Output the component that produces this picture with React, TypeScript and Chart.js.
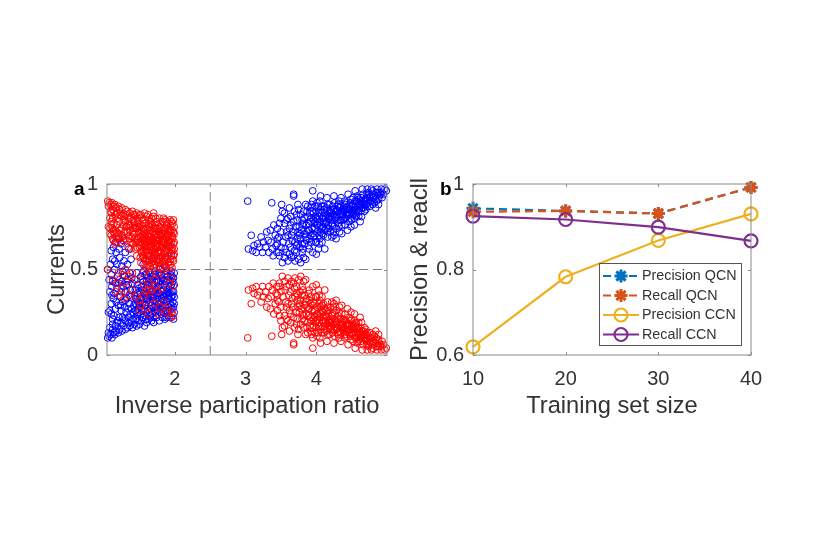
import React, { useEffect, useRef } from "react";
import { Chart, registerables } from "chart.js";
Chart.register(...registerables);

// flat lists: x, y, x, y ...
const blueLeft = [
1.05,.1,1.07,.11,1.09,.12,1.06,.13,1.11,.1,1.13,.13,1.15,.12,1.12,.15,1.17,.14,1.2,.13,1.22,.15,1.25,.14,1.27,.17,1.3,.15,1.33,.16,1.36,.17,1.4,.16,1.43,.18,1.46,.17,1.5,.18,1.53,.2,1.57,.17,1.6,.19,1.63,.21,1.67,.2,1.7,.19,1.74,.22,1.78,.2,1.82,.22,1.86,.21,1.9,.23,1.95,.22,1.98,.21,
1.06,.25,1.08,.26,1.1,.24,1.14,.23,1.16,.27,1.19,.2,1.21,.22,1.24,.26,1.28,.21,1.31,.25,1.34,.22,1.37,.24,1.41,.21,1.44,.26,1.47,.23,1.49,.28,1.52,.24,1.55,.26,1.58,.23,1.61,.27,1.64,.25,1.68,.24,1.71,.28,1.75,.26,1.79,.25,1.83,.29,1.87,.26,1.91,.28,1.96,.27,1.99,.25,
1.1,.3,1.13,.33,1.17,.31,1.2,.29,1.23,.34,1.26,.31,1.29,.28,1.32,.33,1.35,.3,1.38,.34,1.42,.29,1.45,.33,1.48,.31,1.51,.34,1.54,.3,1.56,.33,1.59,.29,1.62,.33,1.65,.31,1.69,.34,1.72,.3,1.76,.33,1.8,.31,1.84,.34,1.88,.31,1.92,.33,1.97,.31,1.99,.34,
1.08,.37,1.11,.4,1.14,.36,1.18,.39,1.21,.42,1.24,.37,1.27,.4,1.3,.37,1.34,.41,1.37,.38,1.4,.42,1.44,.38,1.47,.41,1.5,.37,1.53,.4,1.57,.36,1.6,.39,1.63,.42,1.66,.37,1.7,.41,1.73,.38,1.77,.4,1.81,.37,1.85,.41,1.89,.38,1.93,.4,1.96,.37,1.99,.41,
1.07,.44,1.1,.47,1.12,.43,1.15,.5,1.19,.46,1.22,.44,1.26,.49,1.29,.46,1.33,.44,1.36,.48,1.39,.45,1.43,.44,1.46,.48,1.52,.46,1.56,.43,1.58,.47,1.62,.45,1.65,.48,1.68,.44,1.71,.47,1.75,.44,1.78,.48,1.82,.45,1.86,.47,1.9,.44,1.94,.47,1.98,.45,
1.05,.5,1.09,.53,1.12,.56,1.15,.55,1.18,.53,1.22,.57,1.25,.52,1.28,.55,1.33,.53,1.38,.56,1.1,.61,1.13,.63,1.17,.6,1.21,.62,1.24,.65,1.3,.6,1.35,.62,1.16,.66,1.2,.68,1.27,.67,1.55,.53,1.62,.58,1.7,.62,1.75,.55,1.8,.7,1.9,.65,1.95,.58,1.85,.52,
1.12,.18,1.16,.17,1.24,.19,1.3,.2,1.38,.2,1.45,.21,1.55,.22,1.65,.23,1.72,.25,1.8,.27,1.9,.25,1.95,.29,1.58,.35,1.61,.36,1.67,.34,1.74,.35,1.78,.36,1.83,.35,1.87,.36,1.91,.35,1.95,.34,1.6,.43,1.67,.42,1.74,.43,1.8,.43,1.87,.43,1.92,.42,1.97,.43,
1.08,.16,1.18,.19,1.26,.22,1.35,.19,1.42,.24,1.48,.2,1.59,.21,1.66,.27,1.73,.23,1.81,.24,1.88,.22,1.93,.26,1.98,.28,1.12,.21,1.23,.29,1.3,.32,1.39,.27,1.46,.29,1.53,.27,1.6,.31,1.67,.29,1.73,.28,1.77,.3,1.82,.27,1.86,.29,1.94,.3,1.11,.35,1.16,.42,1.25,.43,1.31,.41,1.36,.35,1.43,.35,1.49,.39,1.55,.38,1.61,.41,1.65,.39,1.69,.37,1.75,.39,1.79,.41,1.84,.38,1.88,.43,1.91,.39,1.95,.41,1.98,.37,1.54,.44,1.6,.47,1.64,.44,1.69,.46,1.73,.46,1.77,.43,1.81,.47,1.84,.44,1.89,.46,1.93,.44,1.96,.46,1.99,.48,1.56,.49,1.63,.49,1.72,.49,1.79,.5,1.88,.49,1.95,.49,
1.44,.3,1.5,.3,1.57,.29,1.63,.35,1.7,.32,1.75,.31,1.81,.33,1.85,.32,1.9,.33,1.93,.36,1.97,.35,1.99,.3,1.34,.27,1.41,.25,1.48,.25,1.54,.22,1.62,.26,1.69,.22,1.76,.28,1.84,.25,1.92,.22,1.47,.36,1.52,.33,1.6,.33,1.65,.34,1.7,.35,1.76,.36,1.8,.35,1.86,.35,1.91,.37
];
const redLeft = [
1.05,.9,1.07,.89,1.09,.88,1.06,.87,1.11,.89,1.13,.87,1.15,.88,1.12,.85,1.17,.86,1.2,.87,1.22,.85,1.25,.86,1.27,.83,1.3,.85,1.33,.84,1.36,.83,1.4,.84,1.43,.82,1.46,.83,1.5,.82,1.53,.8,1.57,.83,1.6,.81,1.63,.79,1.67,.8,1.7,.81,1.74,.78,1.78,.8,1.82,.78,1.86,.79,1.9,.77,1.95,.78,1.98,.79,
1.06,.75,1.08,.74,1.1,.76,1.14,.77,1.16,.73,1.19,.8,1.21,.78,1.24,.74,1.28,.79,1.31,.75,1.34,.78,1.37,.76,1.41,.79,1.44,.74,1.47,.77,1.49,.72,1.52,.76,1.55,.74,1.58,.77,1.61,.73,1.64,.75,1.68,.76,1.71,.72,1.75,.74,1.79,.75,1.83,.71,1.87,.74,1.91,.72,1.96,.73,1.99,.75,
1.1,.7,1.13,.67,1.17,.69,1.2,.71,1.23,.66,1.26,.69,1.29,.72,1.32,.67,1.35,.7,1.38,.66,1.42,.71,1.45,.67,1.48,.69,1.51,.66,1.54,.7,1.56,.67,1.59,.71,1.62,.67,1.65,.69,1.69,.66,1.72,.7,1.76,.67,1.8,.69,1.84,.66,1.88,.69,1.92,.67,1.97,.69,1.99,.66,
1.5,.63,1.53,.6,1.57,.64,1.6,.61,1.63,.58,1.66,.63,1.7,.59,1.73,.62,1.77,.6,1.81,.63,1.85,.59,1.89,.62,1.93,.6,1.96,.63,1.99,.59,1.52,.54,1.56,.57,1.58,.53,1.62,.55,1.65,.52,1.68,.56,1.71,.53,1.75,.56,1.78,.52,1.82,.55,1.86,.53,1.9,.56,1.94,.53,1.98,.55,1.44,.62,1.46,.58,1.41,.65,1.38,.62,1.34,.63,
1.18,.72,1.25,.7,1.12,.74,1.15,.71,1.66,.77,1.72,.76,1.8,.74,1.88,.76,1.94,.76,1.55,.68,1.6,.68,1.68,.68,1.75,.69,1.83,.68,1.91,.69,1.96,.68,1.6,.64,1.67,.61,1.74,.65,1.8,.6,1.87,.65,1.92,.63,1.97,.61,1.55,.61,1.47,.68,1.42,.74,1.37,.8,1.3,.78,1.25,.81,1.55,.79,1.47,.8,1.12,.8,1.08,.8,1.08,.71,1.15,.65,1.12,.68,
1.05,.5,1.2,.48,1.26,.47,1.3,.5,1.35,.46,1.12,.44,1.18,.42,1.25,.39,1.32,.43,1.16,.37,1.22,.35,1.28,.33,1.35,.35,1.4,.38,1.45,.34,1.5,.32,1.56,.35,1.52,.29,1.6,.28,1.62,.42,1.55,.48,1.63,.38,1.56,.41,1.58,.37,1.68,.38,1.72,.4,1.76,.37,1.82,.39,1.66,.33,1.72,.3,1.78,.28,1.85,.31,1.9,.27,1.96,.25,1.98,.23,1.94,.22,1.88,.25,1.76,.24,1.62,.24,1.5,.26,1.65,.47,1.72,.44,1.85,.46,1.92,.42,1.95,.45,1.98,.4,1.75,.48,1.45,.44,1.4,.48,
1.1,.83,1.16,.82,1.23,.82,1.29,.81,1.35,.8,1.41,.82,1.48,.78,1.52,.82,1.58,.79,1.62,.82,1.66,.78,1.7,.83,1.73,.8,1.77,.76,1.84,.8,1.88,.78,1.93,.79,1.97,.77,1.99,.71,1.94,.72,1.9,.74,1.85,.73,1.81,.71,1.77,.72,1.73,.74,1.69,.72,1.65,.73,1.63,.76,1.59,.74,1.56,.72,1.53,.73,1.5,.75,1.46,.74,1.43,.76,1.4,.72,1.36,.73,1.32,.75,1.27,.76,1.22,.73,1.18,.76,1.13,.72,1.1,.78,
1.98,.65,1.95,.66,1.9,.67,1.86,.68,1.82,.66,1.78,.64,1.73,.67,1.7,.65,1.66,.66,1.63,.69,1.58,.65,1.55,.65,1.52,.69,1.49,.66,1.46,.63,1.43,.68,1.99,.62,1.94,.64,1.9,.6,1.86,.61,1.83,.63,1.79,.61,1.76,.63,1.72,.64,1.69,.6,1.65,.61,1.62,.63,1.59,.6,1.56,.63,1.54,.58,1.58,.56,1.62,.52,1.66,.58,1.7,.55,1.74,.58,1.78,.56,1.82,.58,1.86,.56,1.9,.58,1.94,.56,1.98,.58,1.6,.51,1.7,.51,1.8,.51,1.88,.51,1.96,.51,
1.51,.57,1.55,.59,1.59,.55,1.61,.59,1.64,.56,1.67,.54,1.69,.57,1.72,.6,1.75,.6,1.77,.54,1.8,.57,1.84,.55,1.87,.57,1.91,.54,1.95,.61,1.97,.56,1.52,.64,1.57,.66,1.6,.66,1.64,.67,1.67,.64,1.71,.66,1.75,.65,1.78,.67,1.81,.65,1.85,.66,1.88,.64,1.92,.66,1.95,.7,1.52,.71,1.57,.69,1.61,.7,1.66,.71,1.7,.74,1.74,.71,1.78,.7,1.82,.73,1.86,.71,1.9,.7,1.93,.73,1.98,.72,1.44,.66,1.4,.69,1.36,.68,1.33,.72,1.28,.68,1.22,.68,1.18,.66,1.42,.78,1.48,.75,1.34,.76,1.3,.82,1.18,.83,1.14,.84,1.09,.84,1.73,.53,1.83,.51,1.92,.51
];
const blueRight = [
3.03,.9,3.37,.89,3.51,.88,3.68,.93,3.68,.94,3.95,.96,4.06,.93,3.08,.7,3.04,.62,3.12,.64,3.17,.65,3.2,.63,3.25,.66,3.22,.69,3.3,.72,3.28,.63,3.33,.6,3.36,.66,3.38,.62,3.42,.7,3.44,.6,3.45,.65,3.48,.58,3.5,.63,3.52,.54,3.55,.57,3.58,.6,3.6,.55,3.63,.63,3.65,.57,3.7,.55,3.72,.6,3.75,.56,3.78,.54,3.8,.6,3.82,.57,3.85,.56,3.9,.62,3.95,.6,4.0,.59,4.03,.62,4.08,.66,4.12,.62,4.16,.69,4.2,.72,4.25,.7,
3.4,.76,3.45,.74,3.5,.72,3.55,.77,3.58,.72,3.6,.8,3.62,.74,3.65,.7,3.68,.78,3.7,.66,3.72,.82,3.74,.72,3.76,.75,3.78,.68,3.8,.79,3.82,.84,3.84,.71,3.86,.76,3.88,.81,3.9,.68,3.92,.86,3.94,.74,3.96,.79,3.98,.7,4.0,.84,4.02,.76,4.04,.81,4.06,.72,4.08,.87,4.1,.78,4.12,.83,4.14,.74,4.16,.88,4.18,.8,4.2,.85,4.22,.77,4.24,.82,4.26,.89,4.28,.74,4.3,.84,4.32,.79,4.34,.87,4.36,.76,4.38,.82,4.4,.9,4.42,.8,4.44,.85,4.46,.78,4.48,.89,4.5,.83,4.52,.92,4.54,.8,4.56,.87,4.58,.93,4.6,.84,4.62,.9,4.64,.81,4.66,.94,4.68,.88,4.7,.85,4.72,.92,4.74,.95,4.76,.87,4.78,.9,4.8,.96,4.82,.89,4.84,.93,4.86,.97,4.88,.91,4.9,.95,4.92,.97,4.95,.94,4.97,.97,4.99,.96,
3.62,.86,3.55,.83,3.5,.8,3.45,.68,3.75,.85,3.85,.88,3.95,.9,4.05,.9,4.15,.92,4.25,.93,4.35,.92,4.45,.94,4.55,.96,4.65,.97,4.72,.97,4.78,.97,4.85,.95,3.77,.63,3.83,.65,3.87,.72,3.93,.66,3.97,.77,4.01,.72,4.05,.68,4.09,.75,4.13,.8,4.17,.76,4.21,.79,4.25,.75,4.29,.81,4.33,.72,4.37,.85,4.41,.76,4.45,.82,4.49,.75,4.53,.84,4.57,.82,4.61,.87,4.65,.86,4.69,.91,4.73,.89,4.77,.93,4.81,.92,4.85,.9,4.89,.93,4.93,.92,
3.92,.78,3.96,.83,4.0,.8,4.03,.87,4.07,.83,4.11,.87,4.15,.82,4.19,.84,4.23,.87,4.27,.84,4.31,.88,4.35,.82,4.39,.87,4.43,.89,4.47,.85,4.51,.88,4.55,.9,4.59,.88,4.63,.92,4.67,.9,4.71,.94,4.75,.92,4.79,.94,4.83,.91,4.87,.95,4.91,.94,3.9,.73,3.94,.84,3.98,.87,4.02,.79,4.06,.85,4.1,.81,4.14,.86,4.18,.83,4.22,.81,4.26,.79,4.3,.87,4.34,.83,4.38,.79,4.42,.86,4.46,.83,4.5,.87,4.54,.85,4.58,.85,4.62,.88,4.66,.89,4.7,.88,
3.43,.64,3.47,.69,3.53,.66,3.57,.69,3.61,.65,3.66,.67,3.69,.61,3.73,.68,3.77,.71,3.8,.65,3.86,.67,3.89,.77,3.91,.83,3.93,.8,3.97,.74,3.99,.81,4.01,.76,4.03,.83,4.05,.78,4.07,.74,4.09,.8,4.11,.85,4.13,.77,4.17,.81,4.19,.88,4.21,.83,4.23,.76,4.27,.8,4.29,.85,4.31,.77,4.33,.86,4.35,.79,4.37,.81,4.39,.84,4.41,.88,4.43,.83,4.47,.87,4.49,.91,4.51,.85,4.53,.87,4.55,.83,4.57,.9,4.59,.92,4.61,.86,4.63,.9,4.67,.86,4.71,.9,4.73,.94,3.6,.7,3.64,.76,3.67,.72,3.71,.75,3.73,.79,3.79,.73,3.81,.76,3.83,.8,3.87,.84,3.89,.73,3.95,.71,3.99,.66,4.04,.7,4.1,.7,4.18,.74,4.24,.72,4.32,.75,4.4,.8,4.5,.79,4.6,.81,
3.35,.73,3.48,.77,3.52,.84,3.58,.79,3.64,.81,3.69,.84,3.74,.88,3.78,.82,3.82,.77,3.88,.87,3.93,.88,3.98,.78,4.01,.89,4.06,.76,4.11,.77,4.15,.78,4.2,.81,4.24,.85,4.28,.82,4.32,.9,4.36,.84,4.4,.85,4.44,.82,4.48,.8,4.52,.82,4.56,.81,4.6,.91,4.64,.86,4.68,.84,4.72,.87,4.76,.9,4.8,.88,4.84,.86,4.88,.88,3.72,.64,3.76,.7,3.81,.62,3.85,.69,3.89,.64,3.92,.7,3.96,.69,4.0,.66,4.04,.65,4.08,.71,4.12,.73,4.16,.72,4.22,.69,4.28,.68,4.36,.71,4.44,.73,4.54,.76,4.62,.78,3.1,.61,3.15,.6,3.24,.6,3.32,.67,3.39,.58,3.47,.6,3.56,.62,3.62,.59,3.68,.58,3.74,.65
];
const redRight = [
3.03,.1,3.37,.11,3.51,.12,3.68,.07,3.68,.06,3.95,.04,4.06,.07,3.08,.3,3.04,.38,3.12,.36,3.17,.35,3.2,.37,3.25,.34,3.22,.31,3.3,.28,3.28,.37,3.33,.4,3.36,.34,3.38,.38,3.42,.3,3.44,.4,3.45,.35,3.48,.42,3.5,.37,3.52,.46,3.55,.43,3.58,.4,3.6,.45,3.63,.37,3.65,.43,3.7,.45,3.72,.4,3.75,.44,3.78,.46,3.8,.4,3.82,.43,3.85,.44,3.9,.38,3.95,.4,4.0,.41,4.03,.38,4.08,.34,4.12,.38,4.16,.31,4.2,.28,4.25,.3,
3.4,.24,3.45,.26,3.5,.28,3.55,.23,3.58,.28,3.6,.2,3.62,.26,3.65,.3,3.68,.22,3.7,.34,3.72,.18,3.74,.28,3.76,.25,3.78,.32,3.8,.21,3.82,.16,3.84,.29,3.86,.24,3.88,.19,3.9,.32,3.92,.14,3.94,.26,3.96,.21,3.98,.3,4.0,.16,4.02,.24,4.04,.19,4.06,.28,4.08,.13,4.1,.22,4.12,.17,4.14,.26,4.16,.12,4.18,.2,4.2,.15,4.22,.23,4.24,.18,4.26,.11,4.28,.26,4.3,.16,4.32,.21,4.34,.13,4.36,.24,4.38,.18,4.4,.1,4.42,.2,4.44,.15,4.46,.22,4.48,.11,4.5,.17,4.52,.08,4.54,.2,4.56,.13,4.58,.07,4.6,.16,4.62,.1,4.64,.19,4.66,.06,4.68,.12,4.7,.15,4.72,.08,4.74,.05,4.76,.13,4.78,.1,4.8,.04,4.82,.11,4.84,.07,4.86,.03,4.88,.09,4.9,.05,4.92,.03,4.95,.06,4.97,.03,4.99,.04,
3.62,.14,3.55,.17,3.5,.2,3.45,.32,3.75,.15,3.85,.12,3.95,.1,4.05,.1,4.15,.08,4.25,.07,4.35,.08,4.45,.06,4.55,.04,4.65,.03,4.72,.03,4.78,.03,4.85,.05,3.77,.37,3.83,.35,3.87,.28,3.93,.34,3.97,.23,4.01,.28,4.05,.32,4.09,.25,4.13,.2,4.17,.24,4.21,.21,4.25,.25,4.29,.19,4.33,.28,4.37,.15,4.41,.24,4.45,.18,4.49,.25,4.53,.16,4.57,.18,4.61,.13,4.65,.14,4.69,.09,4.73,.11,4.77,.07,4.81,.08,4.85,.1,4.89,.07,4.93,.08,
3.92,.22,3.96,.17,4.0,.2,4.03,.13,4.07,.17,4.11,.13,4.15,.18,4.19,.16,4.23,.13,4.27,.16,4.31,.12,4.35,.18,4.39,.13,4.43,.11,4.47,.15,4.51,.12,4.55,.1,4.59,.12,4.63,.08,4.67,.1,4.71,.06,4.75,.08,4.79,.06,4.83,.09,4.87,.05,4.91,.06,3.9,.27,3.94,.16,3.98,.13,4.02,.21,4.06,.15,4.1,.19,4.14,.14,4.18,.17,4.22,.19,4.26,.21,4.3,.13,4.34,.17,4.38,.21,4.42,.14,4.46,.17,4.5,.13,4.54,.15,4.58,.15,4.62,.12,4.66,.11,4.7,.12,
3.43,.36,3.47,.31,3.53,.34,3.57,.31,3.61,.35,3.66,.33,3.69,.39,3.73,.32,3.77,.29,3.8,.35,3.86,.33,3.89,.23,3.91,.17,3.93,.2,3.97,.26,3.99,.19,4.01,.24,4.03,.17,4.05,.22,4.07,.26,4.09,.2,4.11,.15,4.13,.23,4.17,.19,4.19,.12,4.21,.17,4.23,.24,4.27,.2,4.29,.15,4.31,.23,4.33,.14,4.35,.21,4.37,.19,4.39,.16,4.41,.12,4.43,.17,4.47,.13,4.49,.09,4.51,.15,4.53,.13,4.55,.17,4.57,.1,4.59,.08,4.61,.14,4.63,.1,4.67,.14,4.71,.1,4.73,.06,3.6,.3,3.64,.24,3.67,.28,3.71,.25,3.73,.21,3.79,.27,3.81,.24,3.83,.2,3.87,.16,3.89,.27,3.95,.29,3.99,.34,4.04,.3,4.1,.3,4.18,.26,4.24,.28,4.32,.25,4.4,.2,4.5,.21,4.6,.19,
3.35,.27,3.48,.23,3.52,.16,3.58,.21,3.64,.19,3.69,.16,3.74,.12,3.78,.18,3.82,.23,3.88,.13,3.93,.12,3.98,.22,4.01,.11,4.06,.24,4.11,.23,4.15,.22,4.2,.19,4.24,.15,4.28,.18,4.32,.1,4.36,.16,4.4,.15,4.44,.18,4.48,.2,4.52,.18,4.56,.19,4.6,.09,4.64,.14,4.68,.16,4.72,.13,4.76,.1,4.8,.12,4.84,.14,4.88,.12,3.72,.36,3.76,.3,3.81,.38,3.85,.31,3.89,.36,3.92,.3,3.96,.31,4.0,.34,4.04,.35,4.08,.29,4.12,.27,4.16,.28,4.22,.31,4.28,.32,4.36,.29,4.44,.27,4.54,.24,4.62,.22,3.1,.39,3.15,.4,3.24,.4,3.32,.33,3.39,.42,3.47,.4,3.56,.38,3.62,.41,3.68,.42,3.74,.35
];
const refLineX = [2.5, 2.5];
const refLineSpanY = [0, 1];
const refLineSpanX = [1.04, 5];
const refLineY = [0.5, 0.5];

const trainingSizes = [10, 20, 30, 40];
const precisionQCN = [0.943, 0.937, 0.931, 0.992];
const recallQCN = [0.935, 0.937, 0.931, 0.992];
const precisionCCN = [0.619, 0.783, 0.868, 0.93];
const recallCCN = [0.925, 0.917, 0.899, 0.867];

const FONT = "'Liberation Sans', Arial, sans-serif";
const INK = "#333333";
const BOX = "#8a8a8a";

const pts = (a: number[]) => {
  const out: { x: number; y: number }[] = [];
  for (let i = 0; i < a.length; i += 2) out.push({ x: a[i], y: a[i + 1] });
  return out;
};

// inward ticks, box, panel letter
const framePlugin = (letter: string, lx: number, ly: number) => ({
  id: "frame",
  afterDatasetsDraw(c: any) {
    const { ctx, chartArea: a, scales } = c;
    ctx.save();
    ctx.strokeStyle = BOX;
    ctx.lineWidth = 1;
    ctx.strokeRect(a.left, a.top, a.width, a.height);
    scales.x.ticks.forEach((t: any) => {
      const p = Math.round(scales.x.getPixelForValue(t.value)) + 0.5;
      ctx.beginPath();
      ctx.moveTo(p, a.bottom); ctx.lineTo(p, a.bottom - 3);
      ctx.moveTo(p, a.top); ctx.lineTo(p, a.top + 3);
      ctx.stroke();
    });
    scales.y.ticks.forEach((t: any) => {
      const p = Math.round(scales.y.getPixelForValue(t.value)) + 0.5;
      ctx.beginPath();
      ctx.moveTo(a.left, p); ctx.lineTo(a.left + 3, p);
      ctx.moveTo(a.right, p); ctx.lineTo(a.right - 3, p);
      ctx.stroke();
    });
    ctx.fillStyle = "#000";
    ctx.font = `bold 19px ${FONT}`;
    ctx.textAlign = "left";
    ctx.textBaseline = "alphabetic";
    ctx.fillText(letter, lx, ly);
    ctx.restore();
  },
});

const legendPlugin = {
  id: "boxLegend",
  afterDraw(c: any) {
    const { ctx } = c;
    const x0 = 599, y0 = 263.5, w = 142, h = 82;
    ctx.save();
    ctx.fillStyle = "#fff";
    ctx.strokeStyle = "#555";
    ctx.lineWidth = 1;
    ctx.fillRect(x0, y0, w, h);
    ctx.strokeRect(x0 + 0.5, y0, w, h);
    const rows = [y0 + 12.5, y0 + 32, y0 + 51.5, y0 + 71];
    c.data.datasets.forEach((d: any, i: number) => {
      const y = rows[i];
      ctx.save();
      ctx.strokeStyle = d.borderColor;
      ctx.lineWidth = 2;
      ctx.setLineDash(d.borderDash || []);
      ctx.beginPath();
      ctx.moveTo(x0 + 4, y); ctx.lineTo(x0 + 40, y);
      ctx.stroke();
      ctx.setLineDash([]);
      ctx.restore();
      ctx.save();
      ctx.strokeStyle = d.borderColor;
      ctx.lineWidth = d.pointBorderWidth;
      const r = d.pointRadius;
      const cx = x0 + 22;
      ctx.beginPath();
      if (d.pointStyle === "circle") {
        ctx.arc(cx, y, r, 0, Math.PI * 2);
        ctx.stroke();
      } else {
        for (let k = 0; k < 4; k++) {
          const t = (k * Math.PI) / 4;
          ctx.moveTo(cx - r * Math.cos(t), y - r * Math.sin(t));
          ctx.lineTo(cx + r * Math.cos(t), y + r * Math.sin(t));
        }
        ctx.stroke();
      }
      ctx.restore();
      ctx.fillStyle = "#333";
      ctx.font = `14.3px ${FONT}`;
      ctx.textBaseline = "middle";
      ctx.textAlign = "left";
      ctx.fillText(d.label, x0 + 43, y + 0.5);
    });
    ctx.restore();
  },
};

const axis = (min: number, max: number, ticks: number[], title: string, tickPad: number, extra: any) => ({
  type: "linear",
  min,
  max,
  grid: { display: false, drawBorder: false },
  border: { display: false },
  afterBuildTicks: (s: any) => { s.ticks = ticks.map((value) => ({ value })); },
  ticks: {
    color: INK,
    font: { family: FONT, size: 20 },
    padding: tickPad,
    maxRotation: 0,
    autoSkip: false,
    callback: (v: any) => String(v),
  },
  title: { display: true, text: title, color: INK, font: { family: FONT, size: 23.7 }, padding: { top: 2, bottom: 0 } },
  ...extra,
});

const fullOpts = (pad: any, xAxis: any, yAxis: any) => ({
  responsive: false,
  animation: false as const,
  layout: { padding: pad },
  plugins: { legend: { display: false }, tooltip: { enabled: false } },
  scales: { x: xAxis, y: yAxis },
});

const fixW = (w: number) => (s: any) => { s.width = w; };
const fixH = (h: number) => (s: any) => { s.height = h; };

export default function App() {
  const aRef = useRef<HTMLCanvasElement>(null);
  const bRef = useRef<HTMLCanvasElement>(null);
  useEffect(() => {
    const ring = (data: number[], color: string, order: number) => ({
      type: "scatter" as const,
      data: pts(data),
      showLine: false,
      borderColor: color,
      backgroundColor: "transparent",
      borderWidth: 1,
      pointRadius: 3.4,
      pointStyle: "circle",
      clip: false as const,
      order,
    });
    const dash = (xs: number[], ys: number[]) => ({
      type: "line" as const,
      data: xs.map((x, i) => ({ x, y: ys[i] })),
      borderColor: "#808080",
      borderWidth: 1,
      borderDash: [9, 5],
      pointRadius: 0,
      order: 9,
    });
    const a = new Chart(aRef.current!, {
      data: {
        datasets: [
          dash(refLineX, refLineSpanY),
          dash(refLineSpanX, refLineY),
          ring(redLeft, "#ff0000", 1),
          ring(redRight, "#ff0000", 1),
          ring(blueLeft, "#0000ff", 2),
          ring(blueRight, "#0000ff", 2),
        ],
      },
      options: fullOpts(
        { left: 41, right: 830 - 387, top: 184, bottom: 558 - 355 - 66 },
        axis(1.04, 5, [2, 3, 4], "Inverse participation ratio", 4, { afterFit: fixH(66) }),
        axis(0, 1, [0, 0.5, 1], "Currents", 1, { afterFit: fixW(66) })
      ) as any,
      plugins: [framePlugin("a", 74, 195) as any],
    } as any);
    const line = (label: string, data: number[], color: string, dashed: boolean, order: number) => ({
      type: "line" as const,
      label,
      data: trainingSizes.map((x, i) => ({ x, y: data[i] })),
      borderColor: color,
      backgroundColor: "transparent",
      borderWidth: 2.2,
      borderDash: dashed ? [8, 5] : [],
      pointStyle: dashed ? "star" : "circle",
      pointRadius: 6.5,
      pointBorderWidth: dashed ? 3 : 2.2,
      clip: false as const,
      order,
    });
    const b = new Chart(bRef.current!, {
      data: {
        datasets: [
          line("Precision QCN", precisionQCN, "#0072bd", true, 4),
          line("Recall QCN", recallQCN, "#d95319", true, 3),
          line("Precision CCN", precisionCCN, "#edb120", false, 2),
          line("Recall CCN", recallCCN, "#7e2f8e", false, 1),
        ],
      },
      options: fullOpts(
        { left: 404, right: 830 - 751, top: 184, bottom: 558 - 355 - 66 },
        axis(10, 40, trainingSizes, "Training set size", 4, { afterFit: fixH(66) }),
        axis(0.6, 1, [0.6, 0.8, 1], "Precision & reacll", 1, { afterFit: fixW(69) })
      ) as any,
      plugins: [framePlugin("b", 440, 195) as any, legendPlugin as any],
    } as any);
    return () => { a.destroy(); b.destroy(); };
  }, []);
  const st: React.CSSProperties = { position: "absolute", left: 0, top: 0 };
  return (
    <div style={{ position: "fixed", left: 0, top: 0, width: 830, height: 558, background: "#fff" }}>
      <canvas ref={aRef} width={830} height={558} style={st} />
      <canvas ref={bRef} width={830} height={558} style={st} />
    </div>
  );
}
